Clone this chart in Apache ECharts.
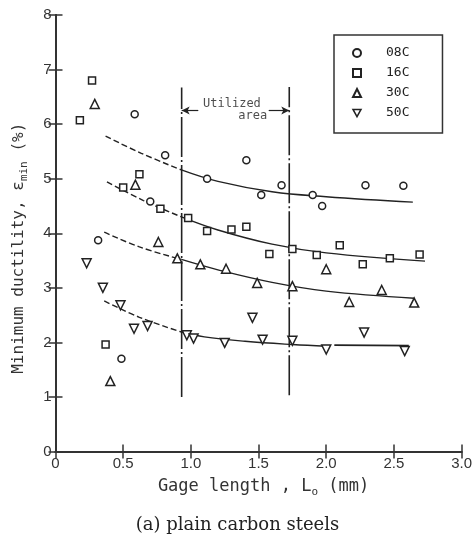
<!DOCTYPE html>
<html>
<head>
<meta charset="utf-8">
<script src="https://cdn.jsdelivr.net/npm/echarts@6/dist/echarts.min.js"></script>
<style>html,body{margin:0;padding:0;background:#fff}#c{width:475px;height:539px}</style>
</head>
<body>
<div id="c"></div>
<script>
// ---- data ----
const seriesNames = ['08C', '16C', '30C', '50C'];
const xTicks = ['0', '0.5', '1.0', '1.5', '2.0', '2.5', '3.0'];

const c08 = [[0.585,6.18],[0.81,5.43],[1.12,5.00],[0.315,3.87],[0.487,1.70],[1.41,5.34],[1.67,4.88],[1.52,4.70],[1.90,4.70],[1.97,4.50],[2.29,4.88],[2.57,4.87],[0.70,4.58]];
const c16 = [[0.18,6.07],[0.27,6.80],[0.62,5.08],[0.50,4.84],[0.775,4.45],[0.98,4.28],[1.12,4.04],[1.30,4.07],[1.41,4.12],[1.58,3.62],[1.75,3.71],[1.93,3.60],[2.10,3.78],[2.27,3.43],[2.47,3.54],[2.69,3.61],[0.37,1.96]];
const c30 = [[0.29,6.37],[0.59,4.89],[0.76,3.84],[0.90,3.54],[1.07,3.43],[1.26,3.35],[1.49,3.09],[1.75,3.03],[2.00,3.34],[2.17,2.74],[2.41,2.96],[2.65,2.73],[0.405,1.29]];
const c50 = [[0.23,3.45],[0.35,3.00],[0.48,2.68],[0.58,2.25],[0.68,2.30],[0.97,2.13],[1.02,2.07],[1.25,1.99],[1.455,2.45],[1.53,2.05],[1.75,2.03],[2.00,1.87],[2.28,2.18],[2.58,1.84]];

const fit08Dash  = [[0.37,5.78],[0.63,5.47],[0.93,5.16]];
const fit08Solid = [[0.93,5.16],[1.20,4.95],[1.60,4.76],[2.00,4.67],[2.64,4.57]];
const fit16Dash  = [[0.38,4.94],[0.65,4.60],[0.93,4.30]];
const fit16Solid = [[0.93,4.30],[1.20,4.06],[1.60,3.80],[2.00,3.64],[2.73,3.49]];
const fit30Dash  = [[0.36,4.02],[0.62,3.75],[0.93,3.52]];
const fit30Solid = [[0.93,3.52],[1.20,3.33],[1.60,3.10],[2.00,2.94],[2.65,2.81]];
const fit50Dash  = [[0.36,2.76],[0.62,2.46],[0.93,2.19]];
const fit50Solid = [[0.93,2.19],[1.10,2.10],[1.40,2.02],[1.75,1.96],[2.00,1.93]];
const fit50Tail  = [[2.06,1.95],[2.61,1.94]];

const utilLeft  = [[0.932,1.00],[0.932,6.67]];
const utilRight = [[1.727,1.03],[1.727,6.68]];
const arrowY = 6.25;
const annotations = [[1.09,6.38,'Utilized'],[1.35,6.16,'area']];

// ---- chart ----
const INK = '#222';
const MONO = 'DejaVu Sans Mono';
const chart = echarts.init(document.getElementById('c'), null, {renderer:'canvas'});
const hollow = {color:'#fff', borderColor:INK, borderWidth:1.5, opacity:1};

function markers(name, data, symbol, size, rotate){
  return {name, type:'scatter', data, symbol, symbolSize:size, symbolRotate:rotate||0,
    itemStyle:hollow, z:5};
}
function fit(data, dashed, width){
  return {type:'line', data, smooth:0.4, showSymbol:false, symbol:'none', silent:true,
    lineStyle:{color:INK, width:width||1.4, type: dashed ? [6,3] : 'solid'}, z:3};
}
function vline(data){
  return {type:'line', data, showSymbol:false, symbol:'none', silent:true,
    lineStyle:{color:INK, width:1.6, type:[40,3,2,3]}, z:2};
}
const axisLineStyle = {lineStyle:{color:'#333', width:2}};
const tickStyle = {inside:true, length:7, lineStyle:{color:'#333', width:1.5}};

chart.setOption({
  animation:false,
  backgroundColor:'#fff',
  grid:{left:55.5, right:8, top:15, bottom:87.5, containLabel:false},
  legend:{
    data:seriesNames.map(n => n === '50C' ? {name:n, icon:'path://M0,0L10,0L5,9Z', itemStyle:hollow} : n),
    orient:'vertical', left:334, top:35,
    padding:[11,33,13,18], itemGap:6, itemWidth:8, itemHeight:8,
    borderColor:'#333', borderWidth:1.5, backgroundColor:'#fff',
    selectedMode:false,
    textStyle:{fontFamily:MONO, fontSize:13, color:INK, lineHeight:14, padding:[0,0,0,20]}
  },
  xAxis:[
    {type:'value', position:'bottom', min:0, max:3, interval:0.5,
     axisLine:axisLineStyle, axisTick:tickStyle, splitLine:{show:false},
     axisLabel:{margin:5, fontFamily:'Liberation Sans', fontSize:15, color:'#333',
       formatter:(v)=>xTicks[Math.round(v/0.5)]},
     name:'Gage length , L{s|o} (mm)', nameLocation:'middle', nameGap:27,
     nameTextStyle:{fontFamily:MONO, fontSize:17, color:'#333', padding:[0,0,0,10],
       rich:{s:{fontFamily:MONO, fontSize:11, color:'#333', verticalAlign:'bottom', padding:[0,0,-2,0]}}}},
    {type:'value', position:'top', min:0, max:3, interval:0.5,
     axisLine:axisLineStyle, axisTick:tickStyle, axisLabel:{show:false}, splitLine:{show:false}}
  ],
  yAxis:[
    {type:'value', position:'left', min:0, max:8, interval:1,
     axisLine:axisLineStyle, axisTick:tickStyle, splitLine:{show:false},
     axisLabel:{margin:4, fontFamily:'Liberation Sans', fontSize:15, color:'#333'},
     name:'Minimum ductility, ε{s|min} (%)', nameLocation:'middle', nameGap:29,
     nameTextStyle:{fontFamily:MONO, fontSize:16, color:'#333', padding:[0,30,0,0],
       rich:{s:{fontFamily:MONO, fontSize:11, color:'#333', verticalAlign:'bottom', padding:[0,0,-3,0]}}}},
    {type:'value', position:'right', min:0, max:8, interval:1,
     axisLine:axisLineStyle, axisTick:tickStyle, axisLabel:{show:false}, splitLine:{show:false}}
  ],
  graphic:[
    {type:'text', left:'center', top:516,
     style:{text:'(a) plain carbon steels', font:'18px "DejaVu Serif"', fill:INK}}
  ],
  series:[
    vline(utilLeft), vline(utilRight),
    fit(fit08Dash,true), fit(fit08Solid,false),
    fit(fit16Dash,true), fit(fit16Solid,false),
    fit(fit30Dash,true), fit(fit30Solid,false),
    fit(fit50Dash,true), fit(fit50Solid,false), fit(fit50Tail,false,1.8),
    {type:'line', data:[], silent:true,
     markLine:{silent:true, symbol:['none','arrow'], symbolSize:[6,8], animation:false,
       label:{show:false}, lineStyle:{color:INK, width:1.2, type:'solid'},
       data:[
         [{coord:[1.055, arrowY]},{coord:[utilLeft[0][0], arrowY]}],
         [{coord:[1.575, arrowY]},{coord:[utilRight[0][0], arrowY]}]
       ]}},
    {type:'scatter', data:annotations, symbolSize:0, silent:true,
     label:{show:true, position:'right', distance:0, formatter:(p)=>p.value[2],
       fontFamily:MONO, fontSize:12, color:INK}},
    markers('08C', c08, 'circle', 7),
    markers('16C', c16, 'rect', 7),
    markers('30C', c30, 'triangle', 9),
    markers('50C', c50, 'triangle', 9, 180)
  ]
});
</script>
</body>
</html>
